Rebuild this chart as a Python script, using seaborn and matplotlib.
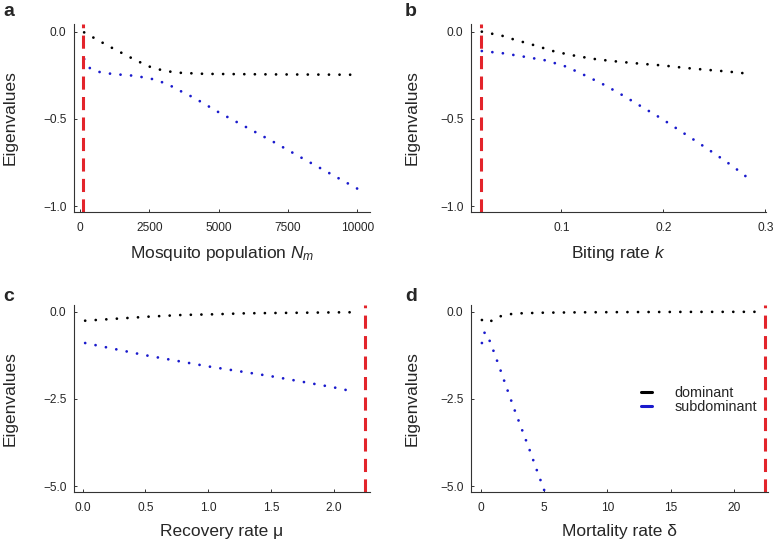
import matplotlib
matplotlib.use("Agg")
import matplotlib.pyplot as plt
from matplotlib.lines import Line2D
import seaborn as sns

# --- DATOS ---
# a: poblacion de mosquitos
NM_DOM = [150, 1000, 2000, 2500, 3000, 3500, 4500, 7000, 10000]
EIG_A_DOM = [-0.004, -0.08, -0.163, -0.20, -0.223, -0.235, -0.242, -0.245, -0.247]
NM_SUB = [150, 360, 720, 1100, 1500, 1900, 2300, 2650, 3000, 3400, 3700,
          4100, 5000, 6000, 7000, 8000, 9000, 10000]
EIG_A_SUB = [-0.157, -0.21, -0.232, -0.241, -0.247, -0.252, -0.262, -0.273,
             -0.292, -0.32, -0.347, -0.378, -0.462, -0.548, -0.634, -0.724,
             -0.812, -0.90]

# b: tasa de picadura
K_DOM = [0.022, 0.033, 0.043, 0.053, 0.073, 0.094, 0.115, 0.135, 0.156,
         0.178, 0.2, 0.22, 0.241, 0.262, 0.285]
EIG_B_DOM = [0.0, -0.013, -0.025, -0.044, -0.077, -0.115, -0.14, -0.159,
             -0.172, -0.184, -0.194, -0.207, -0.218, -0.228, -0.242]
K_SUB = [0.022, 0.043, 0.064, 0.085, 0.105, 0.124, 0.143, 0.161, 0.18,
         0.198, 0.216, 0.234, 0.251, 0.268, 0.285]
EIG_B_SUB = [-0.111, -0.124, -0.144, -0.165, -0.201, -0.253, -0.308, -0.368,
             -0.435, -0.498, -0.567, -0.636, -0.703, -0.772, -0.849]

# c: tasa de recuperacion
MU_DOM = [0.02, 0.28, 0.53, 0.79, 1.05, 1.3, 1.56, 1.82, 2.07, 2.2]
EIG_C_DOM = [-0.26, -0.20, -0.143, -0.096, -0.076, -0.048, -0.038, -0.029,
             -0.019, -0.018]
MU_SUB = [0.02, 0.5, 1.0, 1.5, 2.0, 2.17]
EIG_C_SUB = [-0.90, -1.25, -1.57, -1.85, -2.17, -2.30]

# d: tasa de mortalidad
DELTA_DOM = [0.1, 0.6, 1.3, 2.1, 3.0, 5.0, 8.0, 12.0, 16.0, 22.0]
EIG_D_DOM = [-0.24, -0.32, -0.16, -0.08, -0.05, -0.03, -0.02, -0.012,
             -0.008, -0.005]
DELTA_SUB = [0.1, 0.32, 0.63, 0.95, 1.53, 2.08, 2.66, 3.26, 3.87, 4.45,
             5.0, 6.0]
EIG_D_SUB = [-0.9, -0.59, -0.76, -1.06, -1.64, -2.21, -2.8, -3.38, -3.97,
             -4.56, -5.1, -6.1]

# umbrales (linea roja discontinua)
UMBRALES = [97, 0.0212, 2.247, 22.42]

ETIQUETAS_X = ["Mosquito population $N_m$", "Biting rate $k$",
               "Recovery rate \u03bc", "Mortality rate \u03b4"]
LETRAS = ["a", "b", "c", "d"]
XTICKS = [[0, 2500, 5000, 7500, 10000], [0.1, 0.2, 0.3],
          [0.0, 0.5, 1.0, 1.5, 2.0], [0, 5, 10, 15, 20]]
XTICKLABELS = [["0", "2500", "5000", "7500", "10000"], ["0.1", "0.2", "0.3"],
               ["0.0", "0.5", "1.0", "1.5", "2.0"], ["0", "5", "10", "15", "20"]]
YTICKS = [[0.0, -0.5, -1.0], [0.0, -0.5, -1.0],
          [0.0, -2.5, -5.0], [0.0, -2.5, -5.0]]
XLIMS = [(-216, 10458), (0.0114, 0.3005), (-0.069, 2.29), (-0.76, 22.68)]
YLIMS = [(-1.034, 0.044), (-1.034, 0.044), (-5.17, 0.19), (-5.17, 0.19)]

COLOR_DOM = "#000000"
COLOR_SUB = "#1a1acc"
COLOR_ROJO = "#e3242b"

sns.set_style("ticks")
plt.rcParams["font.family"] = ["Liberation Sans", "DejaVu Sans"]
plt.rcParams["mathtext.fontset"] = "custom"
plt.rcParams["mathtext.it"] = "Liberation Sans:italic"
plt.rcParams["mathtext.rm"] = "Liberation Sans"

fig = plt.figure(figsize=(7.77, 5.46), dpi=100)
W, H = 777, 546
# posiciones de los ejes en pixeles (izq, der, arriba, abajo)
cajas = [(74, 370, 24, 212), (471, 766, 24, 212),
         (74, 370, 305, 492), (471, 768, 305, 492)]

series = [
    (NM_DOM, EIG_A_DOM, NM_SUB, EIG_A_SUB),
    (K_DOM, EIG_B_DOM, K_SUB, EIG_B_SUB),
    (MU_DOM, EIG_C_DOM, MU_SUB, EIG_C_SUB),
    (DELTA_DOM, EIG_D_DOM, DELTA_SUB, EIG_D_SUB),
]

punteado = (0, (0.01, 3.8))

for i, (l, r, t, b) in enumerate(cajas):
    ax = fig.add_axes([l / W, 1 - b / H, (r - l) / W, (b - t) / H])
    xd, yd, xs, ys = series[i]
    sns.lineplot(x=xd, y=yd, ax=ax, color=COLOR_DOM, lw=2.0, ls=punteado,
                 dash_capstyle="round", estimator=None, sort=False)
    sns.lineplot(x=xs, y=ys, ax=ax, color=COLOR_SUB, lw=2.0, ls=punteado,
                 dash_capstyle="round", estimator=None, sort=False)
    ax.axvline(UMBRALES[i], color=COLOR_ROJO, lw=2.2, ls=(0, (4.3, 2.4)),
               clip_on=False)

    ax.set_xlim(*XLIMS[i])
    ax.set_ylim(*YLIMS[i])
    ax.set_xticks(XTICKS[i])
    ax.set_xticklabels(XTICKLABELS[i])
    ax.set_yticks(YTICKS[i])
    ax.set_yticklabels([f"{v:.1f}".replace("-", "\u2212") for v in YTICKS[i]])

    for lado in ["top", "right"]:
        ax.spines[lado].set_visible(False)
    for lado in ["left", "bottom"]:
        ax.spines[lado].set_color("#333333")
        ax.spines[lado].set_linewidth(0.8)
    ax.tick_params(direction="in", length=2.5, width=0.7, color="#333333",
                   labelsize=8.6, pad=5.5)
    ax.tick_params(axis="x", pad=7)

    ax.set_xlabel(ETIQUETAS_X[i], fontsize=12.5)
    ax.set_ylabel("Eigenvalues", fontsize=12.5)
    ax.xaxis.set_label_coords(0.5, -0.17)
    ax.yaxis.set_label_coords(-0.19 if i % 2 == 0 else -0.173, 0.5)

    if i == 3:
        handles = [Line2D([], [], color=COLOR_DOM, lw=2.2),
                   Line2D([], [], color=COLOR_SUB, lw=2.2)]
        ax.legend(handles, ["dominant", "subdominant"], loc="center left",
                  bbox_to_anchor=(0.53, 0.49), frameon=False, fontsize=10.4,
                  handlelength=0.7, handletextpad=1.6, labelspacing=0.0)

# letras de los paneles
posiciones = [(3, 16), (405, 16), (3, 301), (405, 301)]
for letra, (px, py) in zip(LETRAS, posiciones):
    fig.text(px / W, 1 - py / H, letra, fontsize=14, fontweight="bold",
             va="baseline", ha="left")

fig.savefig("out.png", dpi=100)
